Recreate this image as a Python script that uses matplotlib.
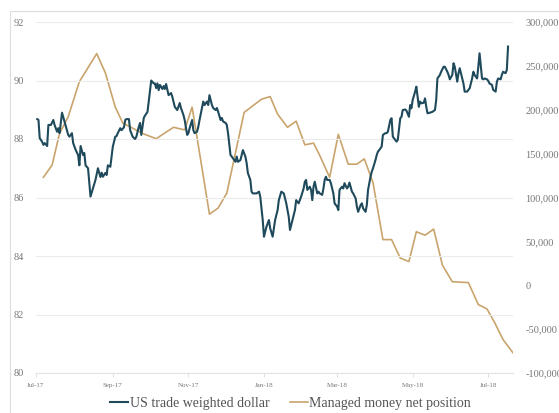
import pandas as pd
import matplotlib.pyplot as plt
import matplotlib.dates as mdates
from matplotlib.ticker import FuncFormatter
from matplotlib.patches import Rectangle

plt.rcParams['font.family'] = ['Liberation Serif', 'DejaVu Serif']

inicio = pd.Timestamp("2017-07-01")

# US trade weighted dollar (dias desde 1-jul-2017, valor)
dolar_dia = [1, 2, 3, 5, 6, 7, 9, 10, 12, 14, 15, 17, 18, 19, 21, 23, 25, 26, 27, 29,
             30, 32, 34, 35, 36, 38, 39, 40, 42, 44, 46, 48, 50, 52, 53, 54, 56, 57, 58, 60,
             61, 62, 64, 65, 66, 68, 69, 71, 72, 73, 75, 76, 78, 80, 81, 83, 84, 85, 87, 88,
             90, 91, 93, 95, 96, 97, 98, 99, 100, 102, 103, 104, 105, 107, 109, 110, 112, 114, 116, 117,
             119, 120, 122, 123, 124, 126, 127, 128, 130, 131, 132, 134, 135, 136, 138, 139, 140, 142, 143, 145,
             146, 147, 149, 150, 151, 153, 154, 155, 157, 158, 159, 161, 162, 163, 165, 166, 167, 169, 170, 171,
             173, 174, 175, 178, 180, 181, 183, 184, 186, 188, 189, 191, 193, 195, 196, 198, 200, 202, 204, 205,
             207, 209, 210, 212, 213, 214, 216, 217, 218, 219, 221, 222, 223, 224, 225, 227, 228, 229, 231, 232,
             233, 234, 235, 237, 238, 240, 241, 243, 244, 245, 247, 248, 249, 251, 252, 253, 255, 256, 258, 259,
             260, 262, 263, 264, 266, 267, 268, 270, 271, 272, 274, 275, 276, 277, 279, 280, 282, 283, 284, 286,
             287, 288, 290, 291, 292, 294, 295, 296, 298, 299, 301, 302, 303, 304, 306, 307, 309, 310, 311, 313,
             314, 315, 316, 318, 320, 322, 323, 324, 326, 327, 329, 330, 332, 333, 334, 336, 337, 338, 340, 341,
             342, 344, 345, 346, 348, 349, 350, 352, 353, 354, 356, 357, 358, 360, 361, 362, 364, 365, 366, 368,
             369, 371, 372, 373, 375, 376, 377, 379, 380, 381]
dolar_valor = [88.68, 88.65, 88.03, 87.9, 87.8, 87.86, 87.76, 88.48, 88.48, 88.65, 88.48, 88.25, 88.37, 88.2, 88.9, 88.6, 88.3, 88.14, 88.08, 88.2,
               87.86, 87.63, 87.45, 87.1, 87.76, 87.45, 87.52, 87.1, 87.0, 86.03, 86.32, 86.6, 87.0, 86.7, 86.85, 86.71, 86.84, 86.77, 87.1, 87.05,
               87.4, 87.74, 88.08, 88.1, 88.2, 88.37, 88.3, 88.4, 88.65, 88.68, 88.68, 88.3, 88.08, 88.0, 88.08, 88.42, 88.55, 88.14, 88.72, 88.8,
               88.93, 89.28, 90.0, 89.9, 89.9, 89.74, 89.9, 89.67, 89.85, 89.71, 89.81, 89.71, 89.88, 89.5, 89.57, 89.45, 89.1, 88.99, 89.23, 89.06,
               88.82, 88.65, 88.14, 88.2, 88.37, 88.65, 88.3, 88.2, 88.25, 88.42, 88.65, 89.06, 89.28, 89.16, 89.28, 89.16, 89.5, 89.16, 89.06, 88.99,
               89.06, 88.93, 88.65, 88.72, 88.6, 88.55, 88.48, 88.2, 87.45, 87.4, 87.34, 87.22, 87.4, 87.22, 87.28, 87.45, 87.62, 87.4, 87.18, 86.84,
               86.6, 86.2, 86.14, 86.14, 86.2, 86.03, 85.23, 84.66, 85.0, 85.23, 84.95, 84.66, 85.23, 85.57, 85.91, 86.2, 86.14, 85.8, 85.34, 84.89,
               85.23, 85.57, 85.91, 85.8, 85.91, 86.03, 86.31, 86.54, 86.6, 86.26, 86.37, 86.26, 85.91, 86.37, 86.54, 86.14, 86.2, 86.14, 86.09, 86.31,
               86.6, 86.71, 86.6, 86.6, 86.49, 86.14, 85.8, 85.69, 85.57, 86.26, 86.37, 86.31, 86.49, 86.31, 86.37, 86.51, 86.2, 86.14, 85.97, 85.69,
               85.51, 85.74, 85.8, 85.63, 85.51, 85.74, 86.26, 86.71, 86.88, 87.0, 87.28, 87.45, 87.57, 87.62, 87.74, 88.14, 88.2, 88.2, 88.25, 88.65,
               88.71, 88.08, 87.97, 87.91, 87.97, 88.71, 88.76, 88.99, 89.01, 88.97, 88.76, 89.16, 89.05, 89.33, 89.62, 89.79, 89.1, 89.28, 89.22, 89.24,
               89.39, 89.1, 88.88, 88.9, 88.93, 88.99, 89.33, 90.07, 90.19, 90.3, 90.47, 90.47, 90.3, 90.19, 90.04, 90.19, 90.59, 90.47, 89.96, 90.25,
               90.42, 90.07, 89.9, 89.62, 89.62, 89.68, 89.73, 90.07, 90.3, 90.19, 90.07, 90.47, 90.93, 90.07, 90.04, 90.07, 90.04, 89.99, 89.9, 89.85,
               89.68, 89.62, 89.96, 90.07, 90.04, 90.19, 90.3, 90.25, 90.36, 91.16]

# Managed money net position (contratos)
gestor_dia = [6, 13, 19, 26, 35, 49, 56, 64, 70, 86, 97, 111, 120, 126, 140, 147, 154, 168, 182, 189,
              195, 203, 210, 217, 224, 229, 237, 244, 252, 259, 265, 272, 280, 287, 294, 301, 307, 314, 321, 328,
              336, 349, 357, 364, 370, 377, 385]
gestor_valor = [123000, 137000, 173000, 192000, 232000, 264000, 242000, 203000, 185000, 173000,
                167000, 180000, 177000, 203000, 81000, 88000, 105000, 197000, 212000, 215000,
                195000, 180000, 187000, 160000, 162000, 148000, 123000, 172000, 138000, 138000,
                144000, 117000, 52000, 52000, 31000, 27000, 61000, 57000, 64000, 23000,
                4000, 3000, -22000, -27000, -42000, -62000, -77000]

ticks_x = ["2017-07-01", "2017-09-01", "2017-11-01", "2018-01-01", "2018-03-01", "2018-05-01", "2018-07-01"]

cor_dolar = "#1f4a5c"
cor_gestor = "#c9a46c"
cinza = "#777777"

datas_dolar = inicio + pd.to_timedelta(dolar_dia, unit="D")
datas_gestor = inicio + pd.to_timedelta(gestor_dia, unit="D")

fig = plt.figure(figsize=(5.59, 4.13), dpi=100)
fig.patches.append(Rectangle((10 / 559, -0.1), 1.0, 1.0 - 11 / 413 + 0.1, transform=fig.transFigure,
                             facecolor="none", edgecolor="#dddddd", linewidth=0.8))

ax = fig.add_axes([36 / 559, 1 - 373 / 413, 477 / 559, 351 / 413])
ax2 = ax.twinx()

ax.plot(datas_dolar, dolar_valor, color=cor_dolar, linewidth=1.5, zorder=3)
ax2.plot(datas_gestor, gestor_valor, color=cor_gestor, linewidth=1.2, zorder=2)
ax.set_zorder(ax2.get_zorder() + 1)
ax.patch.set_visible(False)

ax.set_xlim(inicio, inicio + pd.Timedelta(days=385))
ax.set_ylim(80, 92)
ax2.set_ylim(-100000, 300000)
ax.set_yticks([80, 82, 84, 86, 88, 90, 92])
ax2.set_yticks(range(-100000, 300001, 50000))
ax2.yaxis.set_major_formatter(FuncFormatter(lambda v, p: f"{v:,.0f}"))

ax.set_xticks(pd.to_datetime(ticks_x))
ax.xaxis.set_major_formatter(mdates.DateFormatter("%b-%y"))

ax.grid(axis="y", color="#ebebeb", linewidth=0.8)
for a in (ax, ax2):
    for s in a.spines.values():
        s.set_visible(False)
ax.spines["bottom"].set_visible(True)
ax.spines["bottom"].set_color("#e3e3e3")

ax.tick_params(axis="y", length=0, pad=9, labelsize=7.5, labelcolor=cinza)
ax2.tick_params(axis="y", length=0, pad=9, labelsize=7.5, labelcolor=cinza)
ax.tick_params(axis="x", length=3, color="#e3e3e3", pad=4, labelsize=5, labelcolor=cinza)

linhas = [ax.lines[0], ax2.lines[0]]
fig.legend(linhas, ["US trade weighted dollar", "Managed money net position"],
           loc="center", bbox_to_anchor=(0.52, 1 - 403 / 413), ncol=2, frameon=False,
           fontsize=10, handlelength=1.3, handletextpad=0.1, columnspacing=1.5,
           labelcolor="#555555")

plt.savefig("out.png", dpi=100)
